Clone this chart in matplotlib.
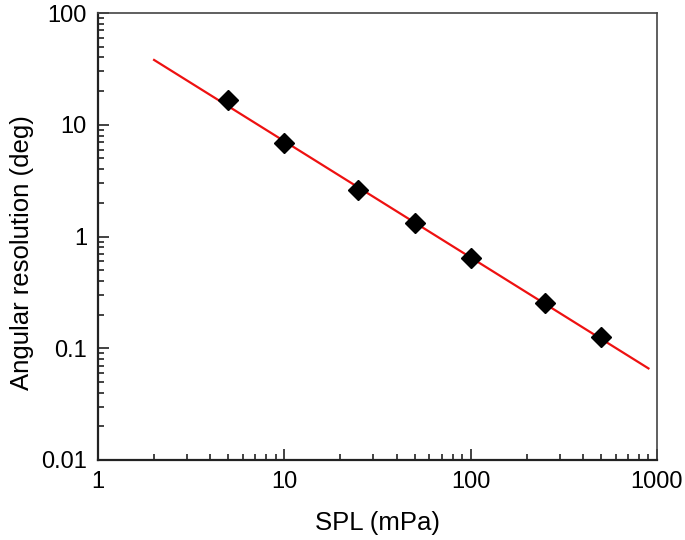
import matplotlib
matplotlib.use("Agg")
import matplotlib.pyplot as plt
from matplotlib.ticker import LogLocator, FixedLocator, FixedFormatter, NullFormatter

plt.rcParams['font.family'] = ['Liberation Sans', 'DejaVu Sans']

spl = [5, 10, 25, 50, 100, 250, 500]
resolution = [16.6, 6.85, 2.62, 1.32, 0.64, 0.255, 0.125]
fit_x = [2, 900]
fit_y = [38, 0.066]

x_ticks = [1, 10, 100, 1000]
x_labels = ['1', '10', '100', '1000']
y_ticks = [0.01, 0.1, 1, 10, 100]
y_labels = ['0.01', '0.1', '1', '10', '100']

fig = plt.figure(figsize=(6.85, 5.4), dpi=100)
ax = fig.add_axes([98/685, 1 - 460/540, (657-98)/685, (460-13)/540])

ax.plot(fit_x, fit_y, color='#ee1111', lw=1.6, zorder=2)
ax.plot(spl, resolution, linestyle='none', marker='D', color='black', markersize=10, zorder=3)

ax.set_xscale('log')
ax.set_yscale('log')
ax.set_xlim(1, 1000)
ax.set_ylim(0.01, 100)

ax.xaxis.set_major_locator(FixedLocator(x_ticks))
ax.xaxis.set_major_formatter(FixedFormatter(x_labels))
ax.yaxis.set_major_locator(FixedLocator(y_ticks))
ax.yaxis.set_major_formatter(FixedFormatter(y_labels))
ax.xaxis.set_minor_locator(LogLocator(base=10, subs=range(2, 10), numticks=20))
ax.yaxis.set_minor_locator(LogLocator(base=10, subs=range(2, 10), numticks=20))
ax.xaxis.set_minor_formatter(NullFormatter())
ax.yaxis.set_minor_formatter(NullFormatter())

ax.tick_params(which='both', direction='in', top=False, right=False, labelsize=17, color='#222222', width=1.2)
ax.tick_params(which='major', length=8, pad=8)
ax.tick_params(which='minor', length=4)

for side in ['left', 'bottom']:
    ax.spines[side].set_linewidth(1.6)
    ax.spines[side].set_color('#222222')
for side in ['top', 'right']:
    ax.spines[side].set_linewidth(1.2)
    ax.spines[side].set_color('#444444')

ax.set_xlabel('SPL (mPa)', fontsize=18.5, labelpad=13)
ax.set_ylabel('Angular resolution (deg)', fontsize=18.5, labelpad=5)
ax.yaxis.set_label_coords(-0.115, 0.465)

fig.savefig('out.png', dpi=100)
